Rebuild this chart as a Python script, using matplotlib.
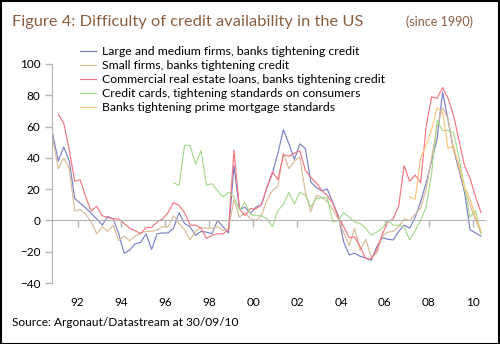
import matplotlib
matplotlib.use('Agg')
from matplotlib import pyplot as plt
import pandas as pd
import numpy as np

plt.rcParams['font.family'] = ['Lato', 'DejaVu Sans']

nan = np.nan

# quarterly survey readings, net % of banks tightening
quarters = pd.period_range('1990Q4', '2010Q2', freq='Q')

large_firms = [55, 38, 47, 38, 14, 11, 8, 4.5, 1, -3,
               2.5, 1, -8.5, -21, -19, -15, -14, -8.5, -18.5, -8.5,
               -8, -8, -5, 5, -2, -4, -9.5, -7, -7.5, -8.5,
               0, -4, -8, 35, 7, 8.5, 4.5, 8.5, 10, 21,
               30, 43, 58, 49, 39, 49, 46, 24.5, 21, 19,
               20, 11.5, 3, -14, -22, -21, -23, -24, -25.5, -17,
               -11, -12, -12.5, -7, -3, -5, 2, 12, 24, 38,
               52, 82, 64, 45, 32, 18, -6, -8, -10]

small_firms = [52, 33, 40, 33, 6, 7, 4, -1, -8.5, -4,
               -7, -3, -13, -10, -13, -10, -8, -7, -7, -6,
               -4, -4, 3, -2, -6, -12.5, -7, -4.5, -5, -5,
               -4, -6.5, -5, 13, 2, 5, 1, 0, 3, 13,
               19, 22, 43, 33, 38, 40.5, 18, 5.5, 16, 15,
               12, 7, 1, -8, -16, -5, -19, -12, -23.5, -21,
               -10, -7.5, -7, -4, 1, 0, 4, 8, 20, 40,
               60, 72, 65, 45, 35, 20, 10, 0, -8]

commercial_re = [nan, 68, 62, 45, 25, 26, 15, 6, 9, 3,
                 2, 1, 1, -2, -5, -6.5, -8.5, -4.5, -4.5, -1,
                 1, 5, 11.5, 9.5, 5, -3, -3, -5, -11.5, -9.5,
                 -8.5, -8.5, -6, 45, 7.5, 3, 7.5, 7.5, 10, 21,
                 31, 26, 42, 41, 43, 44.5, 32, 27.5, 24, 19,
                 16, 11, 2, -4, -11, -10.5, -17, -24.5, -24.5, -19,
                 -9, -1, 1, 9, 35, 25, 29, 24, 60, 79,
                 78, 85, 78, 67, 51, 35, 27, 15, 5]

credit_cards = [nan] * 22 + [
                24, 22.5, 48, 48, 36, 44.5, 22.5, 23.5,
                19, 15, 18, 15, 6.5, 11.5, 4, 3, 3, 1,
                -4, 6.5, 10, 18, 10.5, 18, 16, 8.5, 14, 14.5,
                14.5, -1, 0, 5, 2, -1, -2, -5, -9.5, -7.5,
                -5, 0, -3, -3, -4, -12.5, -6.5, 0, 8.5, 30,
                64, 57.5, 57.5, 56, 40, 21, 2, 6.5, -8.5]

prime_mortgage = [nan] * 65 + [
                  15, 13.5, 40, 48, 58,
                  72, 69, 46, 48, 34, 21, 14, 2, -6.5]

series = [
    ('Large and medium firms, banks tightening credit', large_firms, '#7b80c8'),
    ('Small firms, banks tightening credit', small_firms, '#d9bb98'),
    ('Commercial real estate loans, banks tightening credit', commercial_re, '#f47780'),
    ('Credit cards, tightening standards on consumers', credit_cards, '#a6da8c'),
    ('Banks tightening prime mortgage standards', prime_mortgage, '#fcc67c'),
]

year_ticks = [1992, 1994, 1996, 1998, 2000, 2002, 2004, 2006, 2008, 2010]
year_labels = ['92', '94', '96', '98', '00', '02', '04', '06', '08', '10']
y_ticks = [-40, -20, 0, 20, 40, 60, 80, 100]

x = quarters.year + (quarters.quarter - 1) / 4 + 0.125

fig = plt.figure(figsize=(5, 3.44), dpi=100)
ax = fig.add_axes([0.1034, 0.1773, 0.8666, 0.6367])

for label, vals, color in series:
    ax.plot(x, vals, color=color, lw=0.85, label=label)

grey = '#b4b4b4'
ax.set_xlim(1990.825, 2010.556)
ax.set_ylim(-40, 100)
ax.set_yticks(y_ticks)
ax.set_xticks(year_ticks)
ax.set_xticklabels(year_labels)

for side in ['top', 'right']:
    ax.spines[side].set_visible(False)
ax.spines['left'].set_color(grey)
ax.spines['bottom'].set_color(grey)
ax.spines['bottom'].set_position(('data', 0))
ax.tick_params(axis='y', colors=grey, labelcolor='black', length=5, width=1,
               labelsize=8.5, pad=3)
ax.tick_params(axis='x', colors=grey, labelcolor='black', length=5, width=1,
               labelsize=8.5, pad=50)

ax.legend(loc='upper left', bbox_to_anchor=(80 / 500, 1 - 46 / 344),
          bbox_transform=fig.transFigure, frameon=False, fontsize=8.85,
          handlelength=1.3, handletextpad=0.5, labelspacing=0.25,
          borderpad=0, borderaxespad=0)

brown = '#8b5d3f'
fig.text(12 / 500, 1 - 22 / 344, 'Figure 4: Difficulty of credit availability in the US',
         fontsize=11.8, color=brown, va='center', ha='left')
fig.text(473 / 500, 1 - 22 / 344, '(since 1990)', fontsize=9, color=brown,
         va='center', ha='right')
fig.text(12 / 500, 1 - 323 / 344, 'Source: Argonaut/Datastream at 30/09/10',
         fontsize=8.6, color='black', va='center', ha='left')

fig.patches.append(plt.Rectangle((0.001, 0.001), 0.997, 0.996, transform=fig.transFigure,
                                 fill=False, edgecolor='black', lw=1.5))

fig.savefig('out.png', dpi=100)
